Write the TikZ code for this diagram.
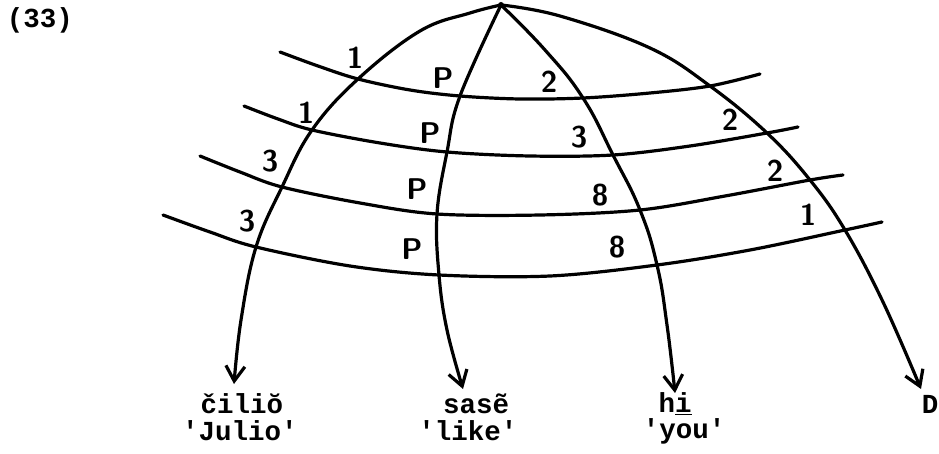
\documentclass[tikz,border=0pt]{standalone}
\usepackage{fontspec}
\setmonofont{Liberation Mono}
\usetikzlibrary{arrows.meta}
\tikzset{
  line/.style={line width=3.2pt, line cap=round, line join=round},
  arc/.style={line, -{Straight Barb[length=15pt,width=19pt,line width=3.2pt]}},
  band/.style={line},
  lab/.style={font=\fontsize{30}{30}\selectfont\sffamily\bfseries, inner sep=0pt},
  word/.style={font=\fontsize{27.5}{27.5}\selectfont\ttfamily\bfseries, inner sep=0pt},
}
\begin{document}
\begin{tikzpicture}[x=1pt,y=-1pt]
\useasboundingbox (0,0) rectangle (939,454);
% apex
\coordinate (apex) at (501,5);
% crossings: row r, column c
\coordinate (a11) at (358,79);  \coordinate (a12) at (460,96);  \coordinate (a13) at (583,98);  \coordinate (a14) at (710,86);
\coordinate (a21) at (312,130); \coordinate (a22) at (447,152); \coordinate (a23) at (613,155); \coordinate (a24) at (767,133);
\coordinate (a31) at (282,187); \coordinate (a32) at (437,214); \coordinate (a33) at (640,210); \coordinate (a34) at (810,180);
\coordinate (a41) at (256,247); \coordinate (a42) at (439,275); \coordinate (a43) at (657,265); \coordinate (a44) at (845,230);
% band ends
\coordinate (b1s) at (280,52);  \coordinate (b1e) at (760,74);
\coordinate (b2s) at (244,106); \coordinate (b2e) at (798,127);
\coordinate (b3s) at (200,156); \coordinate (b3e) at (843,175);
\coordinate (b4s) at (163,215); \coordinate (b4e) at (882,222);
% arrow tips
\coordinate (t1) at (234,384);
\coordinate (t2) at (463,389);
\coordinate (t3) at (675,393);
\coordinate (t4) at (921,389);

% bands (slightly wavy, hand-drawn)
\draw[band] plot[smooth, tension=0.55] coordinates {(b1s) (318,66) (a11) (410,90) (a12) (520,99) (a13) (650,93) (a14) (b1e)};
\draw[band] plot[smooth, tension=0.55] coordinates {(b2s) (278,119) (a21) (380,143) (a22) (530,156) (a23) (690,146) (a24) (b2e)};
\draw[band] plot[smooth, tension=0.55] coordinates {(b3s) (240,172) (a31) (360,203) (a32) (540,215) (a33) (725,196) (a34) (b3e)};
\draw[band] plot[smooth, tension=0.55] coordinates {(b4s) (210,232) (a41) (350,266) (a42) (550,276) (a43) (750,250) (a44) (b4e)};

% arcs
\draw[arc] plot[smooth, tension=0.65] coordinates {(apex) (470,13) (420,31) (a11) (a21) (a31) (a41) (241,320) (t1)};
\draw[arc] plot[smooth, tension=0.65] coordinates {(apex) (a12) (a22) (a32) (a42) (447,330) (t2)};
\draw[arc] plot[smooth, tension=0.75] coordinates {(apex) (545,50) (a13) (a23) (a33) (a43) (667,325) (t3)};
\draw[arc] plot[smooth, tension=0.65] coordinates {(apex) (560,16) (650,48) (a14) (a24) (a34) (a44) (883,302) (t4)};
\fill (apex) circle (3pt);

% labels
\node[lab] (l11) at (355,58)  {1};
\node[lab] (l12) at (443,78)  {P};
\node[lab] (l13) at (549,82)  {2};
\node[lab] (l21) at (306,113) {1};
\node[lab] (l22) at (430,133) {P};
\node[lab] (l23) at (579,137) {3};
\node[lab] (l24) at (730,120) {2};
\node[lab] (l31) at (270,161) {3};
\node[lab] (l32) at (417,189) {P};
\node[lab] (l33) at (600,195) {8};
\node[lab] (l34) at (775,171) {2};
\node[lab] (l41) at (247,221) {3};
\node[lab] (l42) at (412,249) {P};
\node[lab] (l43) at (617,247) {8};
\node[lab] (l44) at (808,215) {1};

% words
\node[word] (n33) at (40,20) {(33)};
\node[word] (w1) at (242,404) {čiliŏ};
\node[word] (g1) at (240,431) {'Julio'};
\node[word] (w2) at (476,404) {sasẽ};
\node[word] (g2) at (468,431) {'like'};
\node[word] (w3) at (675,404) {h\underline{i}};
\node[word] (g3) at (684,431) {'you'};
\node[word, anchor=east] (w4) at (938.5,404) {D};
\end{tikzpicture}
\end{document}
